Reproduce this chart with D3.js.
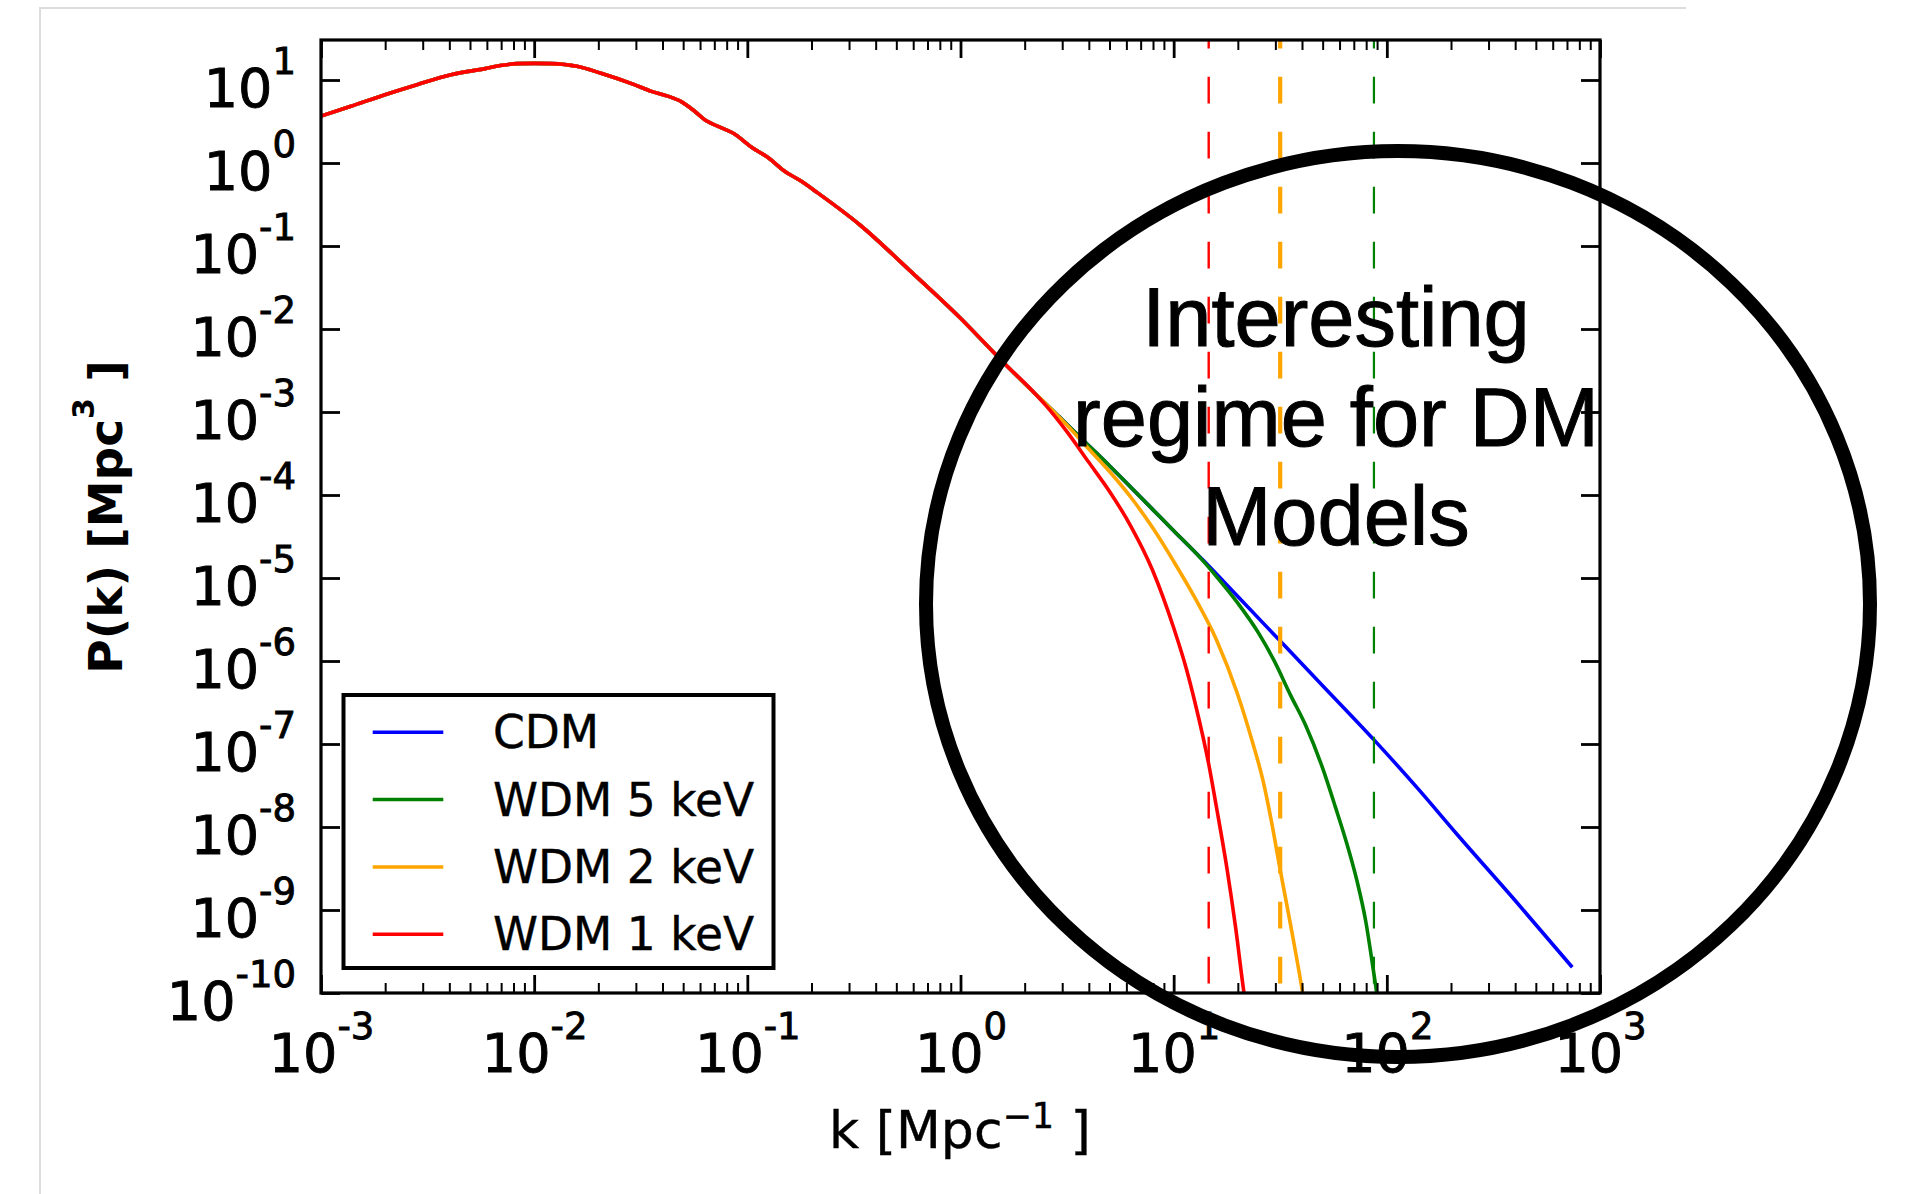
<!DOCTYPE html>
<html>
<head>
<meta charset="utf-8">
<script src="https://cdn.jsdelivr.net/npm/d3@7"></script>
<style>
  html, body { margin: 0; padding: 0; background: #ffffff; }
  svg { display: block; }
</style>
</head>
<body>
<svg id="chart" width="1905" height="1194"></svg>
<script>
// ---------------------------------------------------------------------------
// Linear matter power spectrum P(k) for cold and warm dark matter.
// Values are stored as log10(k [1/Mpc]) and log10(P [Mpc^3]).
// ---------------------------------------------------------------------------

// Large scales: all four models coincide here.
const sharedLog10K = [-3.00, -2.86, -2.70, -2.55, -2.39, -2.23, -2.15, -2.08, -2.00, -1.92,
                      -1.80, -1.69, -1.53, -1.45, -1.37, -1.31, -1.25, -1.19, -1.14, -1.06,
                      -0.98, -0.90, -0.83, -0.75, -0.67, -0.47, -0.24, 0.00, 0.20, 0.35];
const sharedLog10P = [0.565, 0.683, 0.823, 0.944, 1.064, 1.137, 1.177, 1.197, 1.200, 1.197,
                      1.165, 1.084, 0.944, 0.863, 0.803, 0.740, 0.630, 0.505, 0.445, 0.350,
                      0.190, 0.060, -0.090, -0.215, -0.360, -0.750, -1.290, -1.870, -2.400, -2.780];

// Small scales, one branch per model.
const cdmLog10K = [0.40, 0.50, 0.60, 0.70, 0.80, 0.90, 1.00, 1.14, 1.30, 1.50, 1.70, 1.94, 2.15, 2.33, 2.60, 2.87];
const cdmLog10P = [-2.90, -3.15, -3.40, -3.65, -3.91, -4.17, -4.43, -4.79, -5.22, -5.76, -6.30, -6.95, -7.55, -8.09, -8.88, -9.69];

const wdm5Log10K = [0.40, 0.50, 0.60, 0.70, 0.80, 0.90, 1.00, 1.14, 1.20, 1.30, 1.40, 1.47, 1.55, 1.62, 1.70,
                    1.76, 1.81, 1.86, 1.90, 1.94, 1.97];
const wdm5Log10P = [-2.90, -3.15, -3.40, -3.65, -3.91, -4.17, -4.43, -4.80, -4.98, -5.30, -5.67, -5.99, -6.42, -6.78, -7.30,
                    -7.77, -8.18, -8.65, -9.12, -9.78, -10.30];

const wdm2Log10K = [0.40, 0.50, 0.60, 0.70, 0.80, 0.90, 1.00, 1.10, 1.20, 1.30, 1.37, 1.42, 1.46, 1.50, 1.55, 1.60, 1.63];
const wdm2Log10P = [-2.90, -3.16, -3.44, -3.72, -4.03, -4.39, -4.80, -5.24, -5.74, -6.40, -6.98, -7.45, -7.95, -8.52, -9.20, -9.92, -10.40];

const wdm1Log10K = [0.40, 0.50, 0.60, 0.70, 0.80, 0.90, 1.00, 1.06, 1.10, 1.165, 1.20, 1.25, 1.29, 1.33, 1.36];
const wdm1Log10P = [-2.92, -3.24, -3.60, -3.96, -4.38, -4.90, -5.60, -6.10, -6.50, -7.25, -7.75, -8.50, -9.20, -10.00, -10.50];

const seriesNames  = ["CDM", "WDM 5 keV", "WDM 2 keV", "WDM 1 keV"];
const seriesColors = ["#0000ff", "#008000", "#ffa500", "#ff0000"];

// Characteristic suppression scales k [1/Mpc] for 1, 2 and 5 keV.
const cutoffK      = [14.6, 31.6, 87.0];
const cutoffColors = ["#ff0000", "#ffa500", "#008000"];
const cutoffWidths = [2.4, 4.2, 2.2];

// Decade exponents used for tick labels.
const xTickExponents = [-3, -2, -1, 0, 1, 2, 3];
const yTickExponents = [1, 0, -1, -2, -3, -4, -5, -6, -7, -8, -9, -10];

const noteLines = ["Interesting", "regime for DM", "Models"];

// ---------------------------------------------------------------------------
const svg = d3.select("#chart");
const plot = { left: 321, right: 1600, top: 40, bottom: 993 };

const x = d3.scaleLog().domain([1e-3, 1e3]).range([plot.left, plot.right]);
const y = d3.scaleLog().domain([1e-10, Math.pow(10, 1.482)]).range([plot.bottom, plot.top]);

const tickFont = "DejaVu Sans, Verdana, sans-serif";

// page edge lines
svg.append("path")
  .attr("d", "M40,1194 V8 H1686")
  .attr("fill", "none")
  .attr("stroke", "#dcdcdc")
  .attr("stroke-width", 2);

svg.append("defs").append("clipPath").attr("id", "plotClip")
  .append("rect")
  .attr("x", plot.left).attr("y", plot.top)
  .attr("width", plot.right - plot.left).attr("height", plot.bottom - plot.top);

// ---------------------------------------------------------------------------
// curves
const tails = [
  [cdmLog10K, cdmLog10P],
  [wdm5Log10K, wdm5Log10P],
  [wdm2Log10K, wdm2Log10P],
  [wdm1Log10K, wdm1Log10P]
];

function toPoints(lk, lp) {
  return lk.map((v, i) => ({ k: Math.pow(10, v), p: Math.pow(10, lp[i]) }));
}
const shared = toPoints(sharedLog10K, sharedLog10P);
const seriesData = tails.map(([lk, lp]) => shared.concat(toPoints(lk, lp)));

const line = d3.line()
  .x(d => x(d.k))
  .y(d => y(d.p))
  .curve(d3.curveMonotoneX);

const curves = svg.append("g").attr("clip-path", "url(#plotClip)");
seriesData.forEach((pts, i) => {
  curves.append("path")
    .datum(pts)
    .attr("d", line)
    .attr("fill", "none")
    .attr("stroke", seriesColors[i])
    .attr("stroke-width", 3.6)
    .attr("stroke-linejoin", "round");
});

// vertical dashed markers
cutoffK.forEach((k, i) => {
  curves.append("line")
    .attr("x1", x(k)).attr("x2", x(k))
    .attr("y1", plot.top).attr("y2", plot.bottom)
    .attr("stroke", cutoffColors[i])
    .attr("stroke-width", cutoffWidths[i])
    .attr("stroke-dasharray", "26.7 28.3")
    .attr("stroke-dashoffset", 18.3);
});

// ---------------------------------------------------------------------------
// axes: ticks pointing inwards on all four sides
const xMajor = xTickExponents.map(e => Math.pow(10, e));
const xMinor = [];
xTickExponents.slice(0, -1).forEach(e => {
  for (let m = 2; m <= 9; m++) xMinor.push(m * Math.pow(10, e));
});
const yMajor = yTickExponents.map(e => Math.pow(10, e));

function styleTicks(g, width) {
  g.select(".domain").remove();
  g.selectAll(".tick text").remove();
  g.selectAll(".tick line").attr("stroke", "#000").attr("stroke-width", width);
}

svg.append("g").attr("transform", `translate(0,${plot.bottom})`)
  .call(d3.axisBottom(x).tickValues(xMinor).tickSize(-10).tickFormat(() => ""))
  .call(g => styleTicks(g, 2));
svg.append("g").attr("transform", `translate(0,${plot.top})`)
  .call(d3.axisTop(x).tickValues(xMinor).tickSize(-10).tickFormat(() => ""))
  .call(g => styleTicks(g, 2));

const xAxisBottom = svg.append("g").attr("transform", `translate(0,${plot.bottom})`)
  .call(d3.axisBottom(x).tickValues(xMajor).tickSize(-18).tickFormat(() => ""))
  .call(g => styleTicks(g, 2.8));
svg.append("g").attr("transform", `translate(0,${plot.top})`)
  .call(d3.axisTop(x).tickValues(xMajor).tickSize(-18).tickFormat(() => ""))
  .call(g => styleTicks(g, 2.8));

const yAxisLeft = svg.append("g").attr("transform", `translate(${plot.left},0)`)
  .call(d3.axisLeft(y).tickValues(yMajor).tickSize(-19).tickFormat(() => ""))
  .call(g => styleTicks(g, 2.8));
svg.append("g").attr("transform", `translate(${plot.right},0)`)
  .call(d3.axisRight(y).tickValues(yMajor).tickSize(-19).tickFormat(() => ""))
  .call(g => styleTicks(g, 2.8));

// frame
svg.append("rect")
  .attr("x", plot.left).attr("y", plot.top)
  .attr("width", plot.right - plot.left).attr("height", plot.bottom - plot.top)
  .attr("fill", "none").attr("stroke", "#000").attr("stroke-width", 3.2);

// power-of-ten tick labels
function supText(e) { return e < 0 ? "-" + Math.abs(e) : String(e); }

function powerLabel(sel, exponent) {
  sel.attr("fill", "#000")
    .attr("stroke", "#000")
    .attr("stroke-width", 0.9)
    .attr("font-family", tickFont)
    .attr("font-size", 54);
  sel.append("tspan").text("10");
  sel.append("tspan").attr("font-size", 37).attr("dy", -33).text(supText(exponent));
}

xAxisBottom.selectAll(".tick").each(function (d, i) {
  d3.select(this).append("text")
    .attr("x", 0).attr("y", 1072 - plot.bottom)
    .attr("text-anchor", "middle")
    .call(powerLabel, xTickExponents[i]);
});

yAxisLeft.selectAll(".tick").each(function (d, i) {
  d3.select(this).append("text")
    .attr("x", 296 - plot.left).attr("y", 26)
    .attr("text-anchor", "end")
    .call(powerLabel, yTickExponents[i]);
});

// axis titles
const xTitle = svg.append("text")
  .attr("x", 960).attr("y", 1148)
  .attr("text-anchor", "middle")
  .attr("font-family", tickFont)
  .attr("font-size", 52)
  .attr("fill", "#000")
  .attr("stroke", "#000")
  .attr("stroke-width", 0.4);
xTitle.append("tspan").text("k [Mpc");
xTitle.append("tspan").attr("font-size", 35).attr("dy", -20).text("\u22121");
xTitle.append("tspan").attr("dy", 20).text(" ]");

const yTitle = svg.append("text")
  .attr("transform", "translate(122,517) rotate(-90)")
  .attr("text-anchor", "middle")
  .attr("font-family", tickFont)
  .attr("font-weight", "bold")
  .attr("font-size", 47)
  .attr("fill", "#000");
yTitle.append("tspan").text("P(k) [Mpc");
yTitle.append("tspan").attr("font-size", 30).attr("dy", -28).text("3");
yTitle.append("tspan").attr("dy", 28).text(" ]");

// ---------------------------------------------------------------------------
// legend
const legend = svg.append("g");
legend.append("rect")
  .attr("x", 343.5).attr("y", 695)
  .attr("width", 430).attr("height", 273)
  .attr("fill", "#fff")
  .attr("stroke", "#000").attr("stroke-width", 4);
seriesNames.forEach((name, i) => {
  const yy = 732.3 + i * 67.3;
  legend.append("line")
    .attr("x1", 372.7).attr("x2", 443.3)
    .attr("y1", yy).attr("y2", yy)
    .attr("stroke", seriesColors[i]).attr("stroke-width", 3.5);
  legend.append("text")
    .attr("x", 493).attr("y", yy + 16)
    .attr("font-family", tickFont)
    .attr("font-size", 45.5)
    .attr("fill", "#000")
    .attr("stroke", "#000")
    .attr("stroke-width", 0.4)
    .text(name);
});

// ---------------------------------------------------------------------------
// annotation
noteLines.forEach((s, i) => {
  svg.append("text")
    .attr("x", 1336).attr("y", 346 + i * 99.5)
    .attr("text-anchor", "middle")
    .attr("font-family", "Liberation Sans, Arial, Helvetica, sans-serif")
    .attr("font-size", 83)
    .attr("fill", "#000")
    .attr("stroke", "#000")
    .attr("stroke-width", 1)
    .text(s);
});

svg.append("ellipse")
  .attr("cx", 1398).attr("cy", 604)
  .attr("rx", 472).attr("ry", 453)
  .attr("fill", "none")
  .attr("stroke", "#000")
  .attr("stroke-width", 14);
</script>
</body>
</html>
